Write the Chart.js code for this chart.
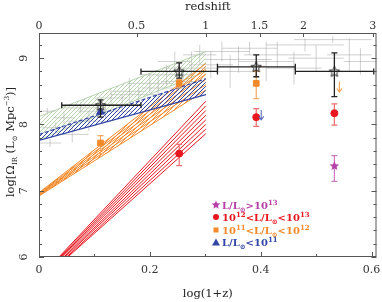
<!DOCTYPE html>
<html>
<head>
<meta charset="utf-8">
<script src="https://cdn.jsdelivr.net/npm/chart.js@4.4.0/dist/chart.umd.min.js"></script>
<style>
  html, body { margin: 0; padding: 0; background: #fff; }
  #wrap { width: 382px; height: 302px; }
</style>
</head>
<body>
<div id="wrap"><canvas id="c" width="382" height="302"></canvas></div>
<script>
// axes
const xTicks = [0, 0.2, 0.4, 0.6];
const xMinorTicks = [0.1, 0.3, 0.5];
const yTicks = [6, 7, 8, 9];
const yMinorStep = 0.2;
const redshiftTicks = [0, 0.5, 1, 1.5, 2, 3];

// total IR (open black stars)
const totX = [0.111, 0.253, 0.392, 0.533];
const totY = [8.29, 8.80, 8.87, 8.80];
const totYLo = [8.11, 8.70, 8.72, 8.42];
const totYHi = [8.37, 8.93, 9.05, 9.08];
const totXLo = [0.041, 0.184, 0.322, 0.4625];
const totXHi = [0.184, 0.322, 0.4625, 0.604];

// L > 1e13
const hlirgX = [0.533];
const hlirgY = [7.38];
const hlirgLo = [7.14];
const hlirgHi = [7.53];

// 1e12 < L < 1e13
const ulirgX = [0.253, 0.392, 0.533];
const ulirgY = [7.56, 8.11, 8.17];
const ulirgLo = [7.38, 7.97, 7.99];
const ulirgHi = [7.70, 8.24, 8.31];

// 1e11 < L < 1e12
const lirgX = [0.111, 0.253, 0.392];
const lirgY = [7.72, 8.62, 8.62];
const lirgLo = [7.56, 8.55, 8.39];
const lirgHi = [7.83, 8.68, 8.80];

// L < 1e11
const normX = [0.111];
const normY = [8.19];

// upper limits (arrows): x, top, tip
const limOrange = [0.542, 8.65, 8.49];
const limBlue = [0.401, 8.22, 8.07];

// model bands, z = 0 .. 1
const bandX = [0, 0.301];
const greenUpper = [8.12, 9.10];
const greenLower = [7.77, 8.80];
const blueUpper = [7.85, 8.69];
const blueLower = [7.76, 8.45];
const orangeStartY = [6.97, 6.96, 6.95, 6.94, 6.93, 6.92];
const orangeEndY = [8.92, 8.84, 8.76, 8.68, 8.60, 8.52];
const redStartX = [0.036, 0.038, 0.040, 0.042, 0.045, 0.047, 0.050, 0.052];
const redEndY = [8.35, 8.28, 8.21, 8.14, 8.07, 8.00, 7.93, 7.86];

// literature compilation (grey crosses): x, y, dx, dy
const litX  = [0.015, 0.02, 0.03, 0.045, 0.06, 0.075, 0.09, 0.12, 0.13, 0.15, 0.163, 0.18, 0.20, 0.215, 0.23, 0.245, 0.26, 0.275, 0.29, 0.31, 0.33, 0.345, 0.36, 0.38, 0.41, 0.43, 0.46, 0.48, 0.50, 0.53, 0.56, 0.58];
const litY  = [8.20, 7.72, 7.95, 8.10, 7.85, 8.25, 8.05, 8.20, 8.40, 8.30, 8.50, 8.45, 8.62, 8.55, 8.75, 8.95, 8.65, 8.85, 9.05, 8.90, 9.10, 8.80, 8.98, 9.15, 8.95, 9.05, 8.85, 9.20, 9.00, 9.28, 9.05, 8.95];
const litDX = [0.015, 0.02, 0.025, 0.02, 0.03, 0.03, 0.04, 0.05, 0.03, 0.04, 0.03, 0.05, 0.04, 0.03, 0.05, 0.03, 0.04, 0.05, 0.03, 0.04, 0.05, 0.04, 0.06, 0.05, 0.05, 0.06, 0.05, 0.07, 0.05, 0.07, 0.04, 0.03];
const litDY = [0.05, 0.06, 0.08, 0.10, 0.12, 0.08, 0.15, 0.10, 0.12, 0.15, 0.20, 0.12, 0.15, 0.20, 0.15, 0.15, 0.20, 0.25, 0.15, 0.20, 0.15, 0.25, 0.20, 0.10, 0.30, 0.20, 0.25, 0.10, 0.20, 0.05, 0.25, 0.20];

const RED = '#e8161e', ORANGE = '#f2892a', BLUE = '#3246a6', MAGENTA = '#b540a8', GREEN = '#a9c99e';
const FONT = '"DejaVu Serif", serif';

const pts = (xs, ys) => xs.map((x, i) => ({ x: x, y: ys[i] }));

function hatch(color, gap, lw) {
  const c = document.createElement('canvas');
  c.width = gap; c.height = gap;
  const g = c.getContext('2d');
  g.strokeStyle = color; g.lineWidth = lw;
  g.beginPath();
  g.moveTo(0, gap); g.lineTo(gap, 0);
  g.moveTo(-1, 1); g.lineTo(1, -1);
  g.moveTo(gap - 1, gap + 1); g.lineTo(gap + 1, gap - 1);
  g.stroke();
  return document.getElementById('c').getContext('2d').createPattern(c, 'repeat');
}

function starPath(g, cx, cy, r) {
  g.beginPath();
  for (let i = 0; i < 10; i++) {
    const rr = i % 2 ? r * 0.45 : r;
    const a = -Math.PI / 2 + i * Math.PI / 5;
    g.lineTo(cx + rr * Math.cos(a), cy + rr * Math.sin(a));
  }
  g.closePath();
}

function starImg(r, fill, stroke) {
  const c = document.createElement('canvas');
  c.width = c.height = Math.ceil(2 * r + 3);
  const g = c.getContext('2d');
  starPath(g, c.width / 2, c.height / 2 + 0.5, r);
  if (fill) { g.fillStyle = fill; g.fill(); }
  if (stroke) { g.strokeStyle = stroke; g.lineWidth = 1; g.stroke(); }
  return c;
}

const datasets = [];

// markers on top
datasets.push({ label: 'total', data: pts(totX, totY), pointStyle: starImg(5.5, null, '#222'), order: 0,
  err: { yLo: totYLo, yHi: totYHi, xLo: totXLo, xHi: totXHi, color: '#222', width: 1.3, cap: 3 } });
datasets.push({ label: 'L>1e13', data: pts(hlirgX, hlirgY), pointStyle: starImg(5, MAGENTA, null), order: 1,
  err: { yLo: hlirgLo, yHi: hlirgHi, color: '#c77bbd', width: 1.2, cap: 3 } });
datasets.push({ label: '1e12<L<1e13', data: pts(ulirgX, ulirgY), pointStyle: 'circle', pointRadius: 3.5,
  backgroundColor: RED, borderColor: RED, order: 1,
  err: { yLo: ulirgLo, yHi: ulirgHi, color: '#ee6f6f', width: 1.2, cap: 3 } });
datasets.push({ label: '1e11<L<1e12', data: pts(lirgX, lirgY), pointStyle: 'rect', pointRadius: 4,
  backgroundColor: ORANGE, borderColor: ORANGE, order: 1,
  err: { yLo: lirgLo, yHi: lirgHi, color: '#f5a860', width: 1.2, cap: 3 } });
datasets.push({ label: 'L<1e11', data: pts(normX, normY), pointStyle: 'triangle', pointRadius: 4.5,
  backgroundColor: BLUE, borderColor: BLUE, order: 1 });

// bands (green, blue hatched; orange, red fans)
datasets.push({ data: pts(bandX, greenUpper), showLine: true, pointRadius: 0, borderColor: GREEN, borderWidth: 0.8,
  fill: '+1', backgroundColor: hatch(GREEN, 4, 0.8), order: 10 });
datasets.push({ data: pts(bandX, greenLower), showLine: true, pointRadius: 0, borderColor: GREEN, borderWidth: 0.8, order: 10 });

orangeStartY.forEach((y0, i) => {
  const first = i === 0, last = i === orangeStartY.length - 1;
  datasets.push({ data: pts(bandX, [y0, orangeEndY[i]]), showLine: true, pointRadius: 0,
    borderColor: ORANGE, borderWidth: 1, order: 8,
    fill: first ? '+' + (orangeStartY.length - 1) : false,
    backgroundColor: first ? hatch(ORANGE, 4, 0.9) : undefined });
});

datasets.push({ data: pts(bandX, blueUpper), showLine: true, pointRadius: 0, borderColor: BLUE, borderWidth: 1.2,
  borderDash: [4, 2], fill: '+1', backgroundColor: hatch(BLUE, 4, 1), order: 6 });
datasets.push({ data: pts(bandX, blueLower), showLine: true, pointRadius: 0, borderColor: BLUE, borderWidth: 1.4, order: 6 });

redStartX.forEach((x0, i) => {
  datasets.push({ data: [{ x: x0, y: 6 }, { x: bandX[1], y: redEndY[i] }], showLine: true, pointRadius: 0,
    borderColor: RED, borderWidth: 1, order: 7 });
});

function richText(ctx, x, y, parts, color) {
  ctx.fillStyle = color;
  ctx.textBaseline = 'alphabetic';
  ctx.textAlign = 'left';
  let cx = x;
  parts.forEach(p => {
    ctx.font = (p.b ? 'bold ' : '') + p.s + 'px ' + FONT;
    ctx.fillText(p.t, cx, y + (p.dy || 0));
    cx += ctx.measureText(p.t).width;
  });
  return cx - x;
}

function richWidth(ctx, parts) {
  let w = 0;
  parts.forEach(p => { ctx.font = (p.b ? 'bold ' : '') + p.s + 'px ' + FONT; w += ctx.measureText(p.t).width; });
  return w;
}

const sun = (b) => ({ t: '\u2299', s: 7, dy: 2.5, b: b });

const chartPlugin = {
  id: 'sedPlot',
  beforeDatasetsDraw(chart) {
    const ctx = chart.ctx, xs = chart.scales.x, ys = chart.scales.y, a = chart.chartArea;
    ctx.save();
    ctx.beginPath(); ctx.rect(a.left, a.top, a.right - a.left, a.bottom - a.top); ctx.clip();
    ctx.strokeStyle = 'rgba(150,150,150,0.45)';
    ctx.lineWidth = 1;
    litX.forEach((x, i) => {
      const px = xs.getPixelForValue(x), py = ys.getPixelForValue(litY[i]);
      ctx.beginPath();
      ctx.moveTo(xs.getPixelForValue(x - litDX[i]), py); ctx.lineTo(xs.getPixelForValue(x + litDX[i]), py);
      ctx.moveTo(px, ys.getPixelForValue(litY[i] - litDY[i])); ctx.lineTo(px, ys.getPixelForValue(litY[i] + litDY[i]));
      ctx.stroke();
    });
    ctx.restore();
  },
  beforeDatasetDraw(chart, args) {
    const ds = chart.data.datasets[args.index];
    if (!ds.err) return;
    const ctx = chart.ctx, xs = chart.scales.x, ys = chart.scales.y, e = ds.err;
    ctx.save();
    ctx.strokeStyle = e.color; ctx.lineWidth = e.width;
    ds.data.forEach((p, i) => {
      const px = xs.getPixelForValue(p.x), py = ys.getPixelForValue(p.y);
      ctx.beginPath();
      if (e.yLo) {
        const y1 = ys.getPixelForValue(e.yLo[i]), y2 = ys.getPixelForValue(e.yHi[i]);
        ctx.moveTo(px, y1); ctx.lineTo(px, y2);
        ctx.moveTo(px - e.cap, y1); ctx.lineTo(px + e.cap, y1);
        ctx.moveTo(px - e.cap, y2); ctx.lineTo(px + e.cap, y2);
      }
      if (e.xLo) {
        const x1 = xs.getPixelForValue(e.xLo[i]), x2 = xs.getPixelForValue(e.xHi[i]);
        ctx.moveTo(x1, py); ctx.lineTo(x2, py);
        ctx.moveTo(x1, py - e.cap); ctx.lineTo(x1, py + e.cap);
        ctx.moveTo(x2, py - e.cap); ctx.lineTo(x2, py + e.cap);
      }
      ctx.stroke();
    });
    ctx.restore();
  },
  afterDatasetsDraw(chart) {
    const ctx = chart.ctx, xs = chart.scales.x, ys = chart.scales.y;
    [[limOrange, '#f5a050'], [limBlue, '#5c6cc0']].forEach(([l, col]) => {
      const px = xs.getPixelForValue(l[0]), y1 = ys.getPixelForValue(l[1]), y2 = ys.getPixelForValue(l[2]);
      ctx.save();
      ctx.strokeStyle = col; ctx.lineWidth = 1.1;
      ctx.beginPath();
      ctx.moveTo(px, y1); ctx.lineTo(px, y2);
      ctx.moveTo(px - 2.5, y2 - 3.5); ctx.lineTo(px, y2); ctx.lineTo(px + 2.5, y2 - 3.5);
      ctx.stroke();
      ctx.restore();
    });
  },
  afterDraw(chart) {
    const ctx = chart.ctx, xs = chart.scales.x, ys = chart.scales.y, a = chart.chartArea;
    ctx.save();
    ctx.strokeStyle = '#555'; ctx.lineWidth = 1;
    ctx.strokeRect(a.left + 0.5, a.top + 0.5, a.right - a.left - 1, a.bottom - a.top - 1);
    ctx.beginPath();
    // bottom ticks
    xTicks.concat(xMinorTicks).forEach(v => {
      const px = Math.round(xs.getPixelForValue(v)) + 0.5;
      const len = xTicks.includes(v) ? 5 : 3;
      ctx.moveTo(px, a.bottom); ctx.lineTo(px, a.bottom - len);
    });
    // top ticks (redshift)
    redshiftTicks.forEach(z => {
      const px = Math.round(xs.getPixelForValue(Math.log10(1 + z))) + 0.5;
      ctx.moveTo(px, a.top); ctx.lineTo(px, a.top + 4);
    });
    // left / right ticks
    for (let v = 6; v <= 9.38; v += yMinorStep) {
      const py = Math.round(ys.getPixelForValue(v)) + 0.5;
      const major = yTicks.some(t => Math.abs(t - v) < 1e-6);
      const len = major ? 5 : 3;
      ctx.moveTo(a.left, py); ctx.lineTo(a.left + len, py);
      ctx.moveTo(a.right, py); ctx.lineTo(a.right - len, py);
    }
    ctx.stroke();

    // tick labels
    ctx.fillStyle = '#333';
    ctx.font = '11px ' + FONT;
    ctx.textAlign = 'center'; ctx.textBaseline = 'middle';
    xTicks.forEach(v => ctx.fillText(String(v), xs.getPixelForValue(v), a.bottom + 13));
    redshiftTicks.forEach(z => ctx.fillText(String(z), xs.getPixelForValue(Math.log10(1 + z)), a.top - 7));
    yTicks.forEach(v => {
      ctx.save();
      ctx.translate(a.left - 15, ys.getPixelForValue(v));
      ctx.rotate(-Math.PI / 2);
      ctx.fillText(String(v), 0, 0);
      ctx.restore();
    });

    // axis titles
    ctx.fillStyle = '#222';
    ctx.font = '11.5px ' + FONT;
    ctx.fillText('redshift', (a.left + a.right) / 2, 7);
    ctx.fillText('log(1+z)', (a.left + a.right) / 2, 294);
    const yt = [
      { t: 'log[\u03A9', s: 11.5 }, { t: 'IR', s: 7, dy: 2.5 }, { t: ' (L', s: 11.5 }, sun(false),
      { t: ' Mpc', s: 11.5 }, { t: '\u22123', s: 7, dy: -5 }, { t: ')]', s: 11.5 }
    ];
    ctx.save();
    ctx.translate(14, (a.top + a.bottom) / 2 - 3);
    ctx.rotate(-Math.PI / 2);
    const w = richWidth(ctx, yt);
    richText(ctx, -w / 2, 0, yt, '#222');
    ctx.restore();

    // legend
    const lx = 216, tx = 222;
    ctx.fillStyle = MAGENTA; starPath(ctx, lx, 205, 4.5); ctx.fill();
    richText(ctx, tx, 209, [{ t: 'L/L', s: 10, b: true }, sun(true), { t: '>10', s: 10, b: true }, { t: '13', s: 7, dy: -4, b: true }], MAGENTA);
    ctx.fillStyle = RED; ctx.beginPath(); ctx.arc(lx, 217, 3, 0, 2 * Math.PI); ctx.fill();
    richText(ctx, tx, 221, [{ t: '10', s: 10, b: true }, { t: '12', s: 7, dy: -4, b: true }, { t: '<L/L', s: 10, b: true }, sun(true), { t: '<10', s: 10, b: true }, { t: '13', s: 7, dy: -4, b: true }], RED);
    ctx.fillStyle = ORANGE; ctx.fillRect(lx - 2.5, 227.5, 5, 5);
    richText(ctx, tx, 234, [{ t: '10', s: 10, b: true }, { t: '11', s: 7, dy: -4, b: true }, { t: '<L/L', s: 10, b: true }, sun(true), { t: '<10', s: 10, b: true }, { t: '12', s: 7, dy: -4, b: true }], ORANGE);
    ctx.fillStyle = BLUE; ctx.beginPath(); ctx.moveTo(lx, 238.5); ctx.lineTo(lx + 4, 245.5); ctx.lineTo(lx - 4, 245.5); ctx.closePath(); ctx.fill();
    richText(ctx, tx, 246, [{ t: 'L/L', s: 10, b: true }, sun(true), { t: '<10', s: 10, b: true }, { t: '11', s: 7, dy: -4, b: true }], BLUE);
    ctx.restore();
  }
};

new Chart(document.getElementById('c'), {
  type: 'scatter',
  data: { datasets: datasets },
  options: {
    responsive: false,
    animation: false,
    devicePixelRatio: 1,
    layout: { padding: { left: 39, top: 33, right: 5, bottom: 45 } },
    plugins: { legend: { display: false }, tooltip: { enabled: false } },
    scales: {
      x: { type: 'linear', min: 0, max: 0.609, display: false },
      y: { type: 'linear', min: 6, max: 9.38, display: false }
    }
  },
  plugins: [chartPlugin]
});
</script>
</body>
</html>
